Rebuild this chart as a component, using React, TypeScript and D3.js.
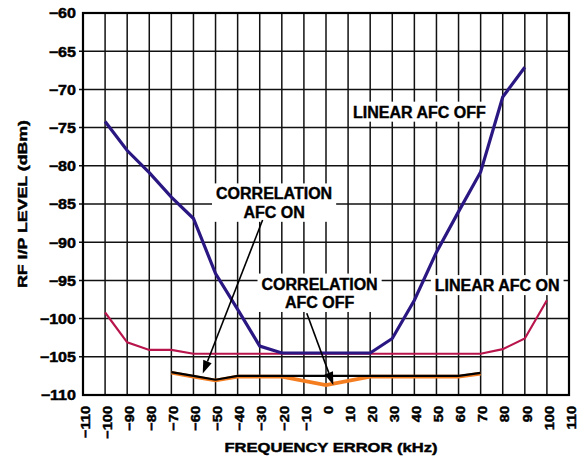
import { useEffect, useRef } from "react";
import * as d3 from "d3";

// tick labels
const freqTicks = [-110, -100, -90, -80, -70, -60, -50, -40, -30, -20, -10, 0, 10, 20, 30, 40, 50, 60, 70, 80, 90, 100, 110];
const levelTicks = [-110, -105, -100, -95, -90, -85, -80, -75, -70, -65, -60];

// LINEAR AFC OFF
const linearOffFreq = [-100, -90, -80, -70, -60, -50, -40, -30, -20, -10, 0, 10, 20, 30, 40, 50, 60, 70, 80, 90];
const linearOffLevel = [-74.2, -78, -80.9, -84.1, -86.9, -94.1, -98.8, -103.6, -104.5, -104.5, -104.5, -104.5, -104.5, -102.6, -97.6, -91.3, -86, -80.8, -71, -67.1];

// LINEAR AFC ON
const linearOnFreq = [-100, -90, -80, -70, -60, -50, -40, -30, -20, -10, 0, 10, 20, 30, 40, 50, 60, 70, 80, 90, 100];
const linearOnLevel = [-99.2, -103.1, -104.1, -104.1, -104.6, -104.6, -104.6, -104.6, -104.6, -104.6, -104.6, -104.6, -104.6, -104.6, -104.6, -104.6, -104.6, -104.6, -104.0, -102.6, -97.6];

// CORRELATION AFC ON
const corrOnFreq = [-70, -60, -50, -40, -30, -20, -10, 0, 10, 20, 30, 40, 50, 60, 70];
const corrOnLevel = [-107.0, -107.5, -108.0, -107.5, -107.5, -107.5, -107.5, -107.5, -107.5, -107.5, -107.5, -107.5, -107.5, -107.5, -107.1];

// CORRELATION AFC OFF
const corrOffFreq = [-70, -60, -50, -40, -30, -20, 0, 20, 30, 40, 50, 60, 70];
const corrOffLevel = [-107.1, -107.6, -108.1, -107.6, -107.6, -107.6, -108.7, -107.6, -107.6, -107.6, -107.6, -107.6, -107.2];

const FONT = "'Liberation Sans', Arial, Helvetica, sans-serif";
const minus = (v: number) => (v < 0 ? "\u2212" + Math.abs(v) : String(v));

type Pt = { f: number; l: number };
const toPts = (f: number[], l: number[]): Pt[] => f.map((d, i) => ({ f: d, l: l[i] }));

const App = () => {
  const chartRef = useRef<SVGSVGElement>(null);

  useEffect(() => {
    if (!chartRef.current) return;
    const margin = { top: 13, right: 18, bottom: 64, left: 83 };
    const width = 587;
    const height = 459;

    const svg = d3.select(chartRef.current);
    svg.selectAll("*").remove();

    const x = d3.scaleLinear().domain([-110, 110]).range([margin.left, width - margin.right]);
    const y = d3.scaleLinear().domain([-110, -60]).range([height - margin.bottom, margin.top]);

    // grid
    const grid = svg.append("g").attr("stroke", "#111").attr("stroke-width", 1.5);
    grid
      .selectAll("line.v")
      .data(freqTicks.slice(1, -1))
      .join("line")
      .attr("x1", (d) => x(d))
      .attr("x2", (d) => x(d))
      .attr("y1", y(-60))
      .attr("y2", y(-110));
    grid
      .selectAll("line.h")
      .data(levelTicks.slice(1, -1))
      .join("line")
      .attr("x1", x(-110) - 4)
      .attr("x2", x(110))
      .attr("y1", (d) => y(d))
      .attr("y2", (d) => y(d));

    // white boxes behind labels go here
    const boxes = svg.append("g");

    // series
    const line = d3
      .line<Pt>()
      .x((d) => x(d.f))
      .y((d) => y(d.l));

    const series = [
      { pts: toPts(linearOnFreq, linearOnLevel), color: "#b8154d", w: 2.2 },
      { pts: toPts(linearOffFreq, linearOffLevel), color: "#2b1782", w: 3.2 },
      { pts: toPts(corrOffFreq, corrOffLevel), color: "#f47d20", w: 3.6 },
      { pts: toPts(corrOnFreq, corrOnLevel), color: "#000000", w: 2.2 },
    ];
    series.forEach((s) => {
      svg
        .append("path")
        .datum(s.pts)
        .attr("d", line)
        .attr("fill", "none")
        .attr("stroke", s.color)
        .attr("stroke-width", s.w)
        .attr("stroke-linejoin", "miter");
    });

    // frame
    svg
      .append("rect")
      .attr("x", x(-110))
      .attr("y", y(-60))
      .attr("width", x(110) - x(-110))
      .attr("height", y(-110) - y(-60))
      .attr("fill", "none")
      .attr("stroke", "#000")
      .attr("stroke-width", 2.2);

    const heavy = (sel: d3.Selection<any, any, any, any>, w = 0.45) =>
      sel.attr("stroke", "#000").attr("stroke-width", w).attr("paint-order", "stroke");

    // y tick labels
    svg
      .append("g")
      .selectAll("text")
      .data(levelTicks)
      .join("text")
      .attr("transform", (d) => `translate(${x(-110) - 7},${y(d) + 5.4}) scale(1.15,1)`)
      .attr("text-anchor", "end")
      .style("font", `bold 14px ${FONT}`)
      .text((d) => minus(d))
      .call(heavy);

    // x tick labels (rotated)
    svg
      .append("g")
      .selectAll("text")
      .data(freqTicks)
      .join("text")
      .attr("transform", (d) => `translate(${x(d)},${y(-110) + 11}) rotate(-90) scale(1.08,1)`)
      .attr("text-anchor", "end")
      .attr("dy", "0.5em")
      .style("font", `bold 13.5px ${FONT}`)
      .text((d) => minus(d))
      .call(heavy);

    // axis titles
    svg
      .append("text")
      .attr("x", x(0) + 5)
      .attr("y", 452)
      .attr("text-anchor", "middle")
      .attr("textLength", 213)
      .attr("lengthAdjust", "spacingAndGlyphs")
      .style("font", `bold 13.5px ${FONT}`)
      .text("FREQUENCY ERROR (kHz)")
      .call(heavy);

    svg
      .append("text")
      .attr("transform", `translate(27,${204}) rotate(-90)`)
      .attr("text-anchor", "middle")
      .attr("textLength", 168)
      .attr("lengthAdjust", "spacingAndGlyphs")
      .style("font", `bold 13.5px ${FONT}`)
      .text("RF I/P LEVEL (dBm)")
      .call(heavy);

    // annotations
    const labels = [
      { lines: ["LINEAR AFC OFF"], f: 42.3, l: -73.7 },
      { lines: ["LINEAR AFC ON"], f: 77.5, l: -96.4 },
      { lines: ["CORRELATION", "AFC ON"], f: -23.5, l: -84.4 },
      { lines: ["CORRELATION", "AFC OFF"], f: -2.9, l: -96.2 },
    ];
    labels.forEach((lab) => {
      const t = svg
        .append("text")
        .attr("text-anchor", "middle")
        .style("font", `bold 16px ${FONT}`)
        .attr("fill", "#000")
        .call(heavy, 0.4);
      lab.lines.forEach((s, i) => {
        t.append("tspan")
          .attr("x", x(lab.f))
          .attr("y", y(lab.l) + i * 18.4)
          .text(s);
      });
      const bb = (t.node() as SVGTextElement).getBBox();
      boxes
        .append("rect")
        .attr("x", bb.x - 4)
        .attr("y", bb.y - 2)
        .attr("width", bb.width + 8)
        .attr("height", bb.height + 3)
        .attr("fill", "#fff");
    });

    // arrows
    const arrows = [
      { from: [-28.7, -87.1], to: [-55.8, -107.2] },
      { from: [-8.7, -99.3], to: [3.3, -108.7] },
    ];
    arrows.forEach((a) => {
      const x1 = x(a.from[0]);
      const y1 = y(a.from[1]);
      const x2 = x(a.to[0]);
      const y2 = y(a.to[1]);
      const ang = Math.atan2(y2 - y1, x2 - x1);
      const hl = 13;
      const hw = 4.5;
      const bx = x2 - hl * Math.cos(ang);
      const by = y2 - hl * Math.sin(ang);
      svg
        .append("line")
        .attr("x1", x1)
        .attr("y1", y1)
        .attr("x2", bx)
        .attr("y2", by)
        .attr("stroke", "#000")
        .attr("stroke-width", 1.6);
      const px = -Math.sin(ang) * hw;
      const py = Math.cos(ang) * hw;
      svg
        .append("path")
        .attr("d", `M${x2},${y2}L${bx + px},${by + py}L${bx - px},${by - py}Z`)
        .attr("fill", "#000");
    });
  }, []);

  return (
    <svg
      ref={chartRef}
      width={587}
      height={459}
      style={{ position: "absolute", left: 0, top: 0, background: "#fff" }}
    />
  );
};

export default App;
